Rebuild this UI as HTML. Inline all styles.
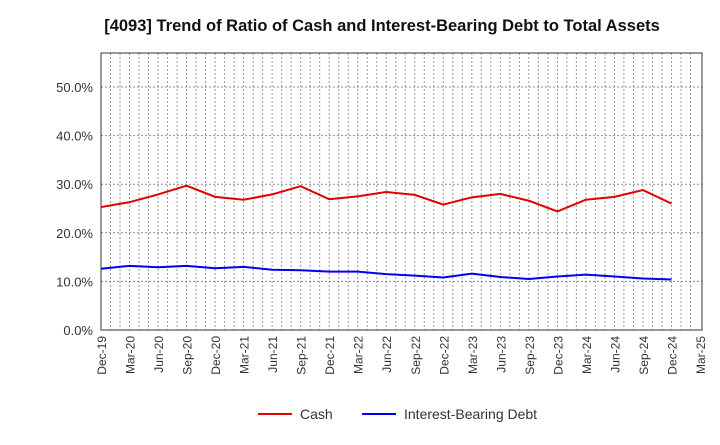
<!DOCTYPE html>
<html><head><meta charset="utf-8"><style>
body{margin:0;background:#fff;font-family:"Liberation Sans",sans-serif}
</style></head><body>
<svg id="c" width="720" height="440" xmlns="http://www.w3.org/2000/svg" font-family="Liberation Sans, sans-serif"></svg>
<script>
const categories=["Dec-19","Mar-20","Jun-20","Sep-20","Dec-20","Mar-21","Jun-21","Sep-21","Dec-21","Mar-22","Jun-22","Sep-22","Dec-22","Mar-23","Jun-23","Sep-23","Dec-23","Mar-24","Jun-24","Sep-24","Dec-24","Mar-25"];
const cash=[25.3,26.3,27.9,29.7,27.4,26.8,27.9,29.6,26.9,27.5,28.4,27.8,25.8,27.3,28.0,26.6,24.4,26.8,27.4,28.8,26.0];
const debt=[12.6,13.2,12.9,13.2,12.7,13.0,12.4,12.3,12.0,12.0,11.5,11.2,10.8,11.6,10.9,10.5,11.0,11.4,11.0,10.6,10.4];
const yTicks=[0,10,20,30,40,50];
const yTickLabels=["0.0%","10.0%","20.0%","30.0%","40.0%","50.0%"];
const svg=document.getElementById('c');const NS="http://www.w3.org/2000/svg";
const L=101,R=702,T=53,B=330,yMax=57;
const x=i=>L+(R-2-L)*i/(categories.length-1);
const y=v=>B-(B-T)*v/yMax;
function el(t,a,p){const e=document.createElementNS(NS,t);for(const k in a)e.setAttribute(k,a[k]);(p||svg).appendChild(e);return e;}
const title=el('text',{x:382,y:31,'text-anchor':'middle','font-size':16.5,'font-weight':'bold',fill:'#111'});

title.textContent="[4093]  Trend of Ratio of Cash and Interest-Bearing Debt to Total Assets";
const grid=el('g',{});
for(let m=1;m<(categories.length-1)*3;m++){const xx=L+(R-2-L)*m/((categories.length-1)*3);el('line',{x1:xx,x2:xx,y1:T,y2:B,stroke:'#999','stroke-dasharray':'2,2','stroke-width':1},grid);}
yTicks.forEach((v,i)=>{if(v>0)el('line',{x1:L,x2:R,y1:y(v),y2:y(v),stroke:'#888','stroke-dasharray':'2,2'},grid);
const t=el('text',{x:L-8,y:y(v)+5,'text-anchor':'end','font-size':13,fill:'#333'});t.textContent=yTickLabels[i];});
const frame=el('rect',{x:L,y:T,width:R-L,height:B-T,fill:'none',stroke:'#333'});
categories.forEach((c,i)=>{const t=el('text',{transform:`translate(${x(i)+5},${B+6}) rotate(-90)`,'text-anchor':'end','font-size':12,fill:'#333'});t.textContent=c;});
function line(d,col,name){const p=el('polyline',{points:d.map((v,i)=>x(i)+','+y(v)).join(' '),fill:'none',stroke:col,'stroke-width':2});}
line(cash,'#e00000','cash-line');line(debt,'#0000ee','debt-line');
function leg(x0,col,txt,name){const g=el('g',{});
el('line',{x1:x0,x2:x0+34,y1:414,y2:414,stroke:col,'stroke-width':2},g);const t=el('text',{x:x0+42,y:419,'font-size':14,fill:'#333'},g);t.textContent=txt;}
leg(258,'#e00000','Cash','legend-cash');leg(362,'#0000ee','Interest-Bearing Debt','legend-debt');
</script></body></html>
